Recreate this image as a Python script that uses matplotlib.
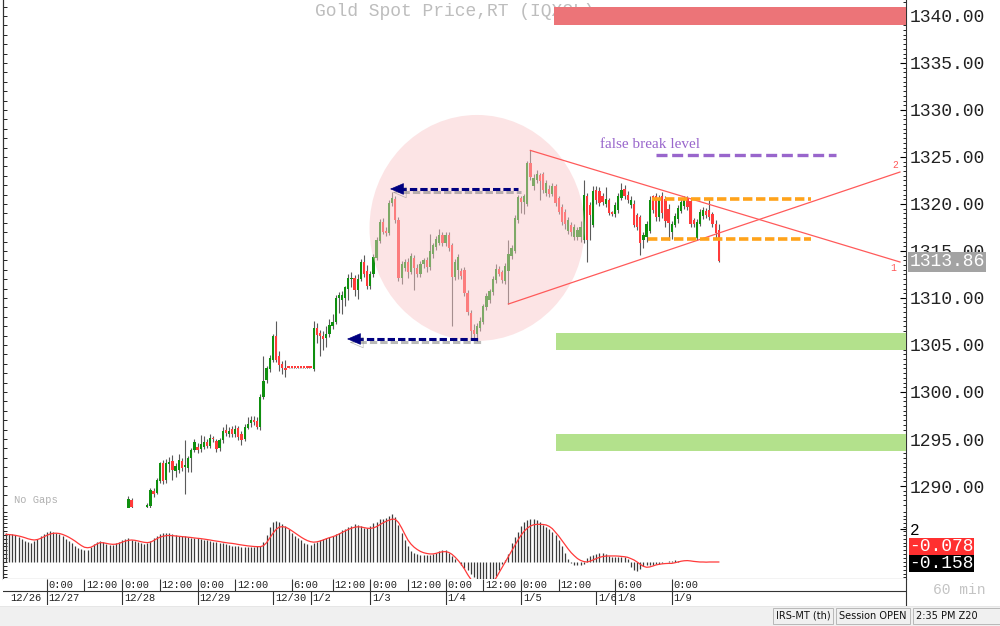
import numpy as np
import matplotlib
matplotlib.use("Agg")
import matplotlib.pyplot as plt
import matplotlib.patheffects as pe
from matplotlib.patches import Ellipse, Rectangle
from matplotlib.ticker import MultipleLocator, FixedLocator, FuncFormatter, NullFormatter
from matplotlib.transforms import blended_transform_factory

plt.rcParams['font.family'] = ['Liberation Mono', 'DejaVu Sans']
nan = np.nan

# ---- hourly candles (bar index 39 .. 227), bars before 39 are below the view
first_bar = 39
opens = [1287.6, 1288.5, nan, nan, nan, nan, 1287.8, 1287.9, 1289.5, 1289.3,
         1290.5, 1292.4, 1290.6, 1292.3, 1292.7, 1291.6, 1291.7, 1292.7, 1292.0, 1291.9,
         1293.0, 1293.8, 1294.2, 1293.9, 1294.1, 1294.7, 1294.3, 1295.0, 1294.8, 1294.0,
         1294.9, 1296.0, 1295.5, 1296.1, 1295.5, 1296.2, 1295.5, 1295.0, 1296.2, 1296.7,
         1297.0, 1296.9, 1296.3, 1299.5, 1301.3, 1302.4, 1303.4, 1306.0, 1303.8, 1303.0,
         1302.6, 1302.6, 1302.6, 1302.6, 1302.6, 1302.6, 1302.6, 1302.6, 1302.6, 1302.4,
         1306.8, 1306.3, 1306.0, 1305.7, 1306.2, 1307.0, 1307.4, 1310.0, 1309.8, 1310.0,
         1311.0, 1312.0, 1312.1, 1310.8, 1312.0, 1313.8, 1312.9, 1311.3, 1312.5, 1314.3,
         1316.1, 1318.1, 1317.1, 1316.9, 1320.1, 1320.5, 1318.3, 1312.1, 1313.2, 1313.8,
         1312.8, 1314.3, 1313.2, 1312.5, 1313.6, 1314.0, 1313.3, 1314.7, 1315.4, 1315.9,
         1316.7, 1315.8, 1316.7, 1315.6, 1312.2, 1313.0, 1312.9, 1313.0, 1310.5, 1308.4,
         1306.6, 1306.2, 1306.8, 1307.4, 1309.0, 1309.8, 1310.6, 1311.9, 1313.1, 1312.8,
         1311.8, 1312.9, 1314.5, 1315.0, 1318.3, 1320.6, 1320.2, 1320.0, 1324.4, 1321.9,
         1322.5, 1323.1, 1323.2, 1321.2, 1321.6, 1321.1, 1321.9, 1320.6, 1319.7, 1319.2,
         1317.1, 1317.8, 1316.5, 1316.5, 1316.5, 1316.2, 1320.9, 1319.9, 1317.8, 1321.5,
         1321.4, 1320.8, 1320.0, 1320.4, 1319.1, 1318.9, 1319.4, 1320.6, 1321.6, 1321.0,
         1319.9, 1320.0, 1318.8, 1318.6, 1316.2, 1316.5, 1317.1, 1320.8, 1320.9, 1318.6,
         1320.9, 1320.5, 1319.5, 1317.0, 1317.8, 1318.4, 1319.3, 1319.8, 1320.6, 1320.3,
         1318.3, 1316.4, 1317.9, 1318.7, 1319.3, 1319.4, 1318.9, 1317.9, 1317.2]
highs = [1288.9, 1288.7, nan, nan, nan, nan, 1288.2, 1289.8, 1289.8, 1290.9,
         1292.6, 1292.8, 1292.9, 1293.1, 1293.3, 1292.4, 1293.4, 1293.0, 1294.9, 1293.2,
         1294.0, 1295.0, 1294.6, 1295.4, 1295.3, 1295.0, 1295.5, 1295.3, 1295.0, 1295.1,
         1296.3, 1296.6, 1296.3, 1296.4, 1296.5, 1296.4, 1295.8, 1296.6, 1297.3, 1297.4,
         1297.4, 1297.3, 1299.8, 1303.8, 1302.8, 1303.9, 1306.2, 1307.5, 1304.4, 1303.3,
         1303.4, 1302.6, 1302.6, 1302.6, 1302.6, 1302.6, 1302.6, 1302.6, 1302.6, 1307.5,
         1307.3, 1306.6, 1306.5, 1307.0, 1307.8, 1308.3, 1310.3, 1310.6, 1310.7, 1311.3,
         1312.6, 1312.8, 1312.4, 1312.5, 1314.2, 1314.6, 1313.5, 1312.9, 1314.7, 1316.5,
         1318.4, 1318.5, 1317.5, 1320.4, 1321.3, 1320.9, 1318.6, 1313.9, 1314.2, 1314.3,
         1314.8, 1314.6, 1313.6, 1313.9, 1314.3, 1314.4, 1316.8, 1315.9, 1316.6, 1317.3,
         1317.0, 1317.0, 1317.0, 1315.9, 1314.1, 1314.7, 1313.2, 1313.3, 1310.9, 1308.7,
         1307.2, 1307.3, 1308.0, 1309.4, 1310.5, 1311.0, 1312.3, 1313.6, 1313.4, 1313.0,
         1313.7, 1316.2, 1315.6, 1318.8, 1321.0, 1320.9, 1321.1, 1324.6, 1325.7, 1323.2,
         1323.6, 1323.3, 1323.4, 1322.6, 1322.0, 1322.2, 1322.1, 1320.8, 1320.0, 1319.5,
         1318.6, 1318.1, 1317.9, 1317.6, 1318.2, 1322.5, 1321.2, 1320.2, 1321.9, 1321.9,
         1321.8, 1321.2, 1321.8, 1320.6, 1319.3, 1320.2, 1321.2, 1322.2, 1322.0, 1321.4,
         1320.8, 1320.4, 1319.0, 1318.8, 1317.0, 1318.2, 1320.9, 1321.0, 1321.2, 1321.0,
         1321.3, 1320.9, 1320.0, 1318.2, 1319.0, 1319.9, 1320.6, 1320.8, 1320.8, 1320.6,
         1318.5, 1318.4, 1319.5, 1319.7, 1319.6, 1320.4, 1319.2, 1318.3, 1317.9]
lows = [1287.5, 1287.5, nan, nan, nan, nan, 1287.5, 1287.6, 1288.8, 1289.2,
        1290.3, 1290.2, 1290.3, 1291.5, 1290.6, 1291.0, 1291.4, 1291.6, 1289.2, 1291.5,
        1291.5, 1293.6, 1293.5, 1293.6, 1293.9, 1294.0, 1294.0, 1294.7, 1293.6, 1293.7,
        1294.6, 1295.3, 1295.2, 1295.2, 1295.2, 1294.9, 1294.4, 1294.8, 1296.1, 1296.3,
        1296.5, 1296.1, 1296.0, 1299.3, 1301.0, 1302.1, 1303.2, 1303.2, 1302.2, 1301.9,
        1301.6, 1302.6, 1302.6, 1302.6, 1302.6, 1302.6, 1302.6, 1302.6, 1302.6, 1302.2,
        1305.2, 1303.8, 1304.5, 1304.8, 1305.9, 1306.7, 1307.2, 1308.4, 1308.3, 1309.1,
        1309.8, 1311.2, 1310.2, 1309.9, 1311.8, 1312.2, 1311.0, 1311.0, 1312.2, 1314.0,
        1315.9, 1316.8, 1316.6, 1316.7, 1319.8, 1318.0, 1311.8, 1311.5, 1312.9, 1312.1,
        1312.5, 1310.9, 1312.2, 1312.2, 1313.2, 1312.8, 1313.0, 1314.3, 1315.1, 1315.6,
        1315.5, 1315.5, 1315.0, 1307.0, 1311.9, 1312.0, 1312.0, 1310.2, 1308.2, 1305.6,
        1305.6, 1305.4, 1306.5, 1307.2, 1308.7, 1309.5, 1310.3, 1311.6, 1312.3, 1311.6,
        1311.5, 1309.4, 1314.2, 1314.8, 1318.0, 1319.0, 1318.9, 1319.8, 1322.6, 1321.5,
        1322.2, 1320.4, 1321.2, 1320.9, 1320.7, 1320.8, 1319.8, 1318.9, 1317.8, 1317.3,
        1316.8, 1316.6, 1316.2, 1316.2, 1316.0, 1315.8, 1313.8, 1316.2, 1317.5, 1320.0,
        1319.8, 1319.9, 1319.7, 1318.8, 1318.7, 1318.6, 1319.0, 1320.4, 1320.5, 1320.1,
        1319.6, 1317.5, 1317.2, 1314.6, 1315.3, 1316.0, 1316.9, 1319.0, 1318.2, 1318.2,
        1318.5, 1317.6, 1316.2, 1316.3, 1317.5, 1318.0, 1319.0, 1319.5, 1319.4, 1317.6,
        1317.5, 1316.2, 1317.7, 1318.4, 1318.5, 1318.3, 1317.5, 1316.4, 1313.8]
closes = [1288.6, 1287.8, nan, nan, nan, nan, 1288.0, 1289.6, 1289.1, 1290.6,
          1292.4, 1290.5, 1292.5, 1292.6, 1291.7, 1292.1, 1292.8, 1291.9, 1292.2, 1293.0,
          1293.8, 1294.7, 1293.8, 1294.5, 1294.7, 1294.3, 1295.1, 1295.0, 1293.9, 1294.9,
          1295.9, 1295.6, 1295.9, 1295.5, 1296.1, 1295.2, 1294.9, 1296.3, 1296.6, 1297.0,
          1296.8, 1296.3, 1299.5, 1301.2, 1302.5, 1303.6, 1306.0, 1303.4, 1302.9, 1302.5,
          1302.3, 1302.6, 1302.6, 1302.6, 1302.6, 1302.6, 1302.6, 1302.6, 1302.6, 1306.8,
          1306.1, 1306.0, 1305.6, 1306.2, 1307.1, 1307.4, 1310.0, 1310.3, 1310.3, 1311.2,
          1312.1, 1312.1, 1310.8, 1312.0, 1313.8, 1312.6, 1311.3, 1312.6, 1314.4, 1316.2,
          1318.1, 1317.0, 1316.9, 1320.1, 1320.6, 1318.3, 1312.1, 1313.6, 1313.8, 1312.8,
          1314.5, 1313.2, 1312.5, 1313.6, 1314.0, 1313.3, 1315.0, 1315.6, 1316.3, 1316.7,
          1315.8, 1316.7, 1315.3, 1312.2, 1313.8, 1314.4, 1312.3, 1310.5, 1308.5, 1306.5,
          1306.2, 1307.0, 1307.6, 1309.1, 1310.2, 1310.7, 1312.0, 1313.1, 1312.6, 1311.9,
          1313.4, 1314.7, 1315.3, 1318.5, 1320.7, 1320.2, 1320.8, 1324.4, 1322.9, 1322.8,
          1323.2, 1322.4, 1321.5, 1322.2, 1321.1, 1321.9, 1320.1, 1319.2, 1318.1, 1317.9,
          1318.3, 1317.0, 1317.6, 1317.2, 1317.6, 1321.0, 1316.2, 1318.8, 1321.4, 1320.4,
          1320.1, 1320.2, 1320.5, 1319.0, 1318.9, 1319.9, 1320.9, 1321.5, 1320.9, 1320.4,
          1320.4, 1317.8, 1317.5, 1315.8, 1316.7, 1317.9, 1320.4, 1319.4, 1318.6, 1320.6,
          1319.0, 1318.2, 1318.0, 1317.9, 1318.7, 1319.6, 1320.2, 1320.4, 1319.7, 1317.9,
          1317.9, 1318.1, 1319.2, 1319.4, 1318.8, 1318.6, 1317.9, 1316.9, 1313.9]
flat_bars = [90, 97]          # holiday bars with no range
last_price = 1313.86

# ---- lower study (bar index 0 .. 227)
hist = [1.85, 1.82, 1.80, 1.75, 1.62, 1.50, 1.38, 1.28, 1.25, 1.35,
        1.50, 1.65, 1.80, 1.92, 2.00, 1.95, 1.88, 1.78, 1.65, 1.50,
        1.35, 1.20, 1.05, 0.92, 0.82, 0.77, 0.75, 0.95, 1.15, 1.28,
        1.38, 1.30, 1.18, 1.10, 1.12, 1.20, 1.30, 1.40, 1.48, 1.53,
        1.45, 1.35, 1.28, 1.22, 1.18, 1.20, 1.35, 1.55, 1.70, 1.80,
        1.85, 1.88, 1.85, 1.80, 1.75, 1.70, 1.68, 1.65, 1.60, 1.58,
        1.55, 1.52, 1.50, 1.45, 1.40, 1.35, 1.31, 1.28, 1.25, 1.20,
        1.15, 1.10, 1.05, 1.02, 1.00, 0.99, 0.98, 0.98, 0.98, 0.99,
        1.00, 1.00, 1.30, 1.75, 2.25, 2.55, 2.62, 2.55, 2.45, 2.30,
        2.10, 1.90, 1.70, 1.55, 1.40, 1.25, 1.15, 1.10, 1.20, 1.30,
        1.40, 1.50, 1.58, 1.63, 1.70, 1.80, 1.90, 2.05, 2.15, 2.25,
        2.35, 2.45, 2.40, 2.30, 2.20, 2.17, 2.30, 2.50, 2.60, 2.75,
        2.80, 2.85, 3.00, 3.08, 2.90, 2.40, 1.90, 1.40, 1.00, 0.70,
        0.56, 0.50, 0.48, 0.46, 0.45, 0.45, 0.50, 0.60, 0.70, 0.78,
        0.77, 0.60, 0.40, 0.20, 0.00, -0.20, -0.38, -0.52, -0.75, -0.95,
        -1.10, -1.20, -1.25, -1.25, -1.20, -1.10, -0.90, -0.50, -0.10, 0.10,
        0.50, 1.20, 1.60, 1.96, 2.30, 2.60, 2.70, 2.75, 2.77, 2.70,
        2.55, 2.40, 2.25, 2.10, 1.96, 1.75, 1.42, 1.00, 0.56, 0.20,
        -0.05, -0.19, -0.20, -0.18, -0.10, 0.25, 0.40, 0.48, 0.52, 0.56,
        0.55, 0.50, 0.38, 0.34, 0.34, 0.35, 0.34, 0.32, 0.20, -0.30,
        -0.50, -0.55, -0.45, -0.25, -0.20, -0.20, -0.18, -0.15, -0.10, -0.05,
        0.00, 0.05, 0.08, 0.12, 0.05, 0.02, 0.02, 0.03, 0.02, 0.02,
        0.02, 0.03, 0.02, 0.02, 0.02, 0.03, 0.02, 0.02]
signal = [1.78, 1.77, 1.75, 1.72, 1.68, 1.63, 1.57, 1.50, 1.45, 1.42,
          1.45, 1.52, 1.62, 1.72, 1.80, 1.85, 1.86, 1.84, 1.78, 1.70,
          1.60, 1.48, 1.35, 1.20, 1.06, 0.95, 0.92, 0.95, 1.05, 1.17,
          1.25, 1.24, 1.20, 1.16, 1.14, 1.15, 1.20, 1.28, 1.35, 1.40,
          1.42, 1.40, 1.36, 1.31, 1.27, 1.25, 1.28, 1.38, 1.50, 1.60,
          1.66, 1.70, 1.71, 1.70, 1.68, 1.66, 1.64, 1.62, 1.60, 1.58,
          1.55, 1.53, 1.51, 1.48, 1.45, 1.42, 1.38, 1.35, 1.32, 1.28,
          1.25, 1.22, 1.20, 1.17, 1.13, 1.10, 1.07, 1.04, 1.02, 1.00,
          0.99, 0.99, 1.05, 1.25, 1.55, 1.85, 2.10, 2.25, 2.28, 2.25,
          2.15, 2.02, 1.88, 1.74, 1.60, 1.48, 1.38, 1.31, 1.28, 1.30,
          1.35, 1.42, 1.50, 1.57, 1.63, 1.70, 1.80, 1.90, 2.00, 2.10,
          2.18, 2.24, 2.27, 2.26, 2.22, 2.18, 2.17, 2.20, 2.28, 2.40,
          2.52, 2.62, 2.70, 2.77, 2.75, 2.55, 2.20, 1.80, 1.42, 1.15,
          0.95, 0.80, 0.68, 0.60, 0.55, 0.52, 0.52, 0.56, 0.62, 0.66,
          0.67, 0.62, 0.50, 0.32, 0.10, -0.15, -0.45, -0.80, -1.10, -1.30,
          -1.45, -1.55, -1.58, -1.55, -1.45, -1.30, -1.05, -0.70, -0.35, 0.00,
          0.35, 0.70, 1.05, 1.40, 1.72, 1.98, 2.18, 2.32, 2.40, 2.43,
          2.43, 2.42, 2.39, 2.30, 2.15, 1.92, 1.68, 1.40, 1.12, 0.85,
          0.60, 0.40, 0.22, 0.10, 0.03, 0.00, 0.05, 0.14, 0.22, 0.30,
          0.35, 0.38, 0.39, 0.39, 0.39, 0.38, 0.36, 0.34, 0.30, 0.22,
          0.13, 0.00, -0.15, -0.28, -0.34, -0.32, -0.26, -0.19, -0.15, -0.12,
          -0.10, -0.09, -0.09, -0.05, 0.00, 0.05, 0.08, 0.09, 0.07, 0.04,
          0.02, 0.00, 0.00, -0.01, 0.00, 0.00, 0.00, 0.00]
study_values = ['-0.078', '-0.158']

# ---- time scale
time_ticks = [13, 25, 37, 49, 61, 73, 91, 104, 116, 128, 140, 152, 164, 176, 194, 212]
time_labels = ['0:00', '12:00', '0:00', '12:00', '0:00', '12:00', '6:00', '12:00',
               '0:00', '12:00', '0:00', '12:00', '0:00', '12:00', '6:00', '0:00']
date_ticks = [13, 37, 61, 85, 97, 116, 140, 164, 188, 194, 212]
date_labels = ['12/27', '12/28', '12/29', '12/30', '1/2', '1/3', '1/4', '1/5', '1/6', '1/8', '1/9']

# ---- annotation levels
resist_zone = (1339.04, 1340.93)
support_zones = [(1304.47, 1306.28), (1293.72, 1295.53)]
false_break = 1325.2
range_top, range_bottom = 1320.53, 1316.24
swing_high, swing_low = 1321.6, 1305.64

W, H = 1000, 626
fig = plt.figure(figsize=(10, 6.26), dpi=100)


def fpos(x, y):
    return x / W, 1 - y / H


L_PX, R_PX = 3, 906
ax_l, ax_w = L_PX / W, (R_PX - L_PX) / W
xlim = ((L_PX - 6) / 3.14, (R_PX - 6) / 3.14)

ax = fig.add_axes([ax_l, 1 - 508 / H, ax_w, 508 / H])
ind = fig.add_axes([ax_l, 1 - 579 / H, ax_w, 71 / H])
tax = fig.add_axes([ax_l, 1 - 605 / H, ax_w, 26 / H])
for a in (ax, ind, tax):
    a.set_xlim(*xlim)
    a.tick_params(axis='x', bottom=False, labelbottom=False)

ax.set_ylim(1287.66, 1341.70)
ind.set_ylim(-1.097, 3.484)
tax.set_ylim(0, 1)

# ---- candles
idx = np.arange(first_bar, first_bar + len(closes))
o, h, l, c = (np.array(v, dtype=float) for v in (opens, highs, lows, closes))
up = c > o
body = np.where(np.abs(c - o) < 0.12, 0.12, np.abs(c - o))
bottom = np.minimum(o, c)
ax.vlines(idx, l, h, color='#5a5a5a', lw=0.8, zorder=2)
ax.bar(idx[up], body[up], bottom=bottom[up], width=0.72, color='#0f8f0f', zorder=2.5)
ax.bar(idx[~up], body[~up], bottom=bottom[~up], width=0.72, color='#ff3b3b', zorder=2.5)
fb = (idx >= flat_bars[0]) & (idx <= flat_bars[1])
ax.plot(idx[fb], c[fb], color='#777777', lw=0.6, ls=':', zorder=2.2)

# ---- highlight circle
ax.add_patch(Ellipse((150, 1317.45), width=215 / 3.14, height=226 / 9.4,
                     facecolor='#f9c7c9', alpha=0.48, edgecolor='none', zorder=3))

# ---- triangle
tri_red = '#ff5a5a'
ax.plot([167, 284.7], [1325.7, 1313.83], color=tri_red, lw=0.9, zorder=4)
ax.plot([160, 284.7], [1309.36, 1323.4], color=tri_red, lw=0.9, zorder=4)
ax.text(283.1, 1324.15, '2', color=tri_red, fontsize=7, ha='center', va='center', zorder=4)
ax.text(282.5, 1313.2, '1', color=tri_red, fontsize=7, ha='center', va='center', zorder=4)

# ---- zones
ax.add_patch(Rectangle((174.5, resist_zone[0]), xlim[1] - 174.5, resist_zone[1] - resist_zone[0],
                       facecolor='#ec7478', edgecolor='none', zorder=5))
for lo, hi in support_zones:
    ax.add_patch(Rectangle((175.2, lo), xlim[1] - 175.2, hi - lo,
                           facecolor='#b3e18c', edgecolor='none', zorder=5))

# ---- dashed levels
ax.plot([207, 264.3], [false_break, false_break], color='#9966cc', lw=2.4,
        ls=(0, (3.3, 1.4)), zorder=5)
ax.text(189.2, 1326.3, 'false break level', color='#9966cc', fontsize=11,
        family='Liberation Serif', va='center', ha='left', zorder=5)
ax.plot([205.6, 256.4], [range_top, range_top], color='#ffa31a', lw=2.6,
        ls=(0, (2.6, 1.0)), zorder=5)
ax.plot([204.5, 256.4], [range_bottom, range_bottom], color='#ffa31a', lw=2.6,
        ls=(0, (2.6, 1.0)), zorder=5)

# ---- arrows with shadow
NAVY = '#000080'
shadow = [pe.SimpleLineShadow(offset=(2, -2.5), shadow_color='#808080', alpha=0.55), pe.Normal()]
for tip, end, lvl in [(122.3, 163.1, swing_high), (108.6, 150.3, swing_low)]:
    ax.plot([tip + 3.0, end], [lvl, lvl], color=NAVY, lw=2.2, ls=(0, (2.4, 1.0)),
            zorder=6, path_effects=shadow, solid_capstyle='butt')
    an = ax.annotate('', xy=(tip, lvl), xytext=(tip + 3.5, lvl), zorder=6,
                     arrowprops=dict(arrowstyle='-|>,head_length=0.75,head_width=0.32',
                                     mutation_scale=12, color=NAVY, lw=0.5,
                                     shrinkA=0, shrinkB=0))
    an.arrow_patch.set_path_effects(shadow)

# ---- title and small captions
ax.text(*fpos(454.5, 12), 'Gold Spot Price,RT (IQXGL)', transform=fig.transFigure,
        color='#bdbdbd', fontsize=13, ha='center', va='center', zorder=1, clip_on=False)
ax.text(*fpos(14, 500), 'No Gaps', transform=fig.transFigure, color='#b0b0b0',
        fontsize=7.5, ha='left', va='center', zorder=1, clip_on=False)

# ---- price axis
for s in ('top', 'bottom'):
    ax.spines[s].set_visible(False)
for s in ('left', 'right'):
    ax.spines[s].set_color('#333333')
    ax.spines[s].set_linewidth(0.8)
ax.yaxis.tick_right()
ax.yaxis.set_major_locator(MultipleLocator(5))
ax.yaxis.set_minor_locator(MultipleLocator(0.5))
ax.yaxis.set_major_formatter(FuncFormatter(lambda v, p: f'{v:.2f}'))
ax.tick_params(axis='y', which='major', direction='in', length=4, width=0.8,
               labelsize=13, pad=3, labelcolor='#222222')
ax.tick_params(axis='y', which='minor', direction='in', length=2.5, width=0.6)
lsec = ax.secondary_yaxis('left')
lsec.yaxis.set_major_locator(MultipleLocator(1))
lsec.yaxis.set_major_formatter(NullFormatter())
lsec.tick_params(direction='in', length=3, width=0.6)
lsec.spines['left'].set_color('#333333')

btf = blended_transform_factory(ax.transAxes, ax.transData)
ax.text(1.004, last_price, f'{last_price:.2f}', transform=btf, color='white', fontsize=13,
        ha='left', va='center', zorder=10, clip_on=False,
        bbox=dict(boxstyle='square,pad=0.08', facecolor='#a3a3a3', edgecolor='none'))

# ---- study panel
bar_x = np.arange(len(hist))
ind.vlines(bar_x, 0, hist, color='#3c3c3c', lw=0.9, zorder=2)
ind.plot(np.arange(len(signal)), signal, color='#ff3a3a', lw=0.9, zorder=3)
ind.spines['top'].set_visible(False)
for s in ('left', 'right', 'bottom'):
    ind.spines[s].set_color('#333333')
    ind.spines[s].set_linewidth(0.8)
ind.yaxis.tick_right()
ind.yaxis.set_major_locator(FixedLocator([2.1]))
ind.yaxis.set_major_formatter(FuncFormatter(lambda v, p: '2'))
ind.yaxis.set_minor_locator(MultipleLocator(0.25))
ind.tick_params(axis='y', which='major', direction='in', length=4, labelsize=11.5, pad=3)
ind.tick_params(axis='y', which='minor', direction='in', length=2.5, width=0.6)
isec = ind.secondary_yaxis('left')
isec.yaxis.set_major_locator(MultipleLocator(0.25))
isec.yaxis.set_major_formatter(NullFormatter())
isec.tick_params(direction='in', length=3, width=0.6)
ibt = blended_transform_factory(ind.transAxes, ind.transData)
ind.text(1.004, 1.0, study_values[0], transform=ibt, color='white', fontsize=13,
         ha='left', va='center', clip_on=False, zorder=10,
         bbox=dict(boxstyle='square,pad=0.02', facecolor='#ff3030', edgecolor='none'))
ind.text(1.004, -0.1, study_values[1], transform=ibt, color='white', fontsize=13,
         ha='left', va='center', clip_on=False, zorder=10,
         bbox=dict(boxstyle='square,pad=0.02', facecolor='black', edgecolor='none'))

# ---- time scale rows
tax.set_yticks([])
for s in ('top', 'left', 'bottom'):
    tax.spines[s].set_visible(False)
tax.spines['right'].set_color('#333333')
tax.spines['right'].set_linewidth(0.8)
row = (605 - 591) / 26
tax.axhline(row, color='#333333', lw=0.8)
tax.vlines(time_ticks, row, 1, color='#333333', lw=0.8)
for t, lab in zip(time_ticks, time_labels):
    tax.text(t + 0.6, (row + 1) / 2, lab, fontsize=7.5, ha='left', va='center', color='#222222')
tax.vlines(date_ticks, 0, row, color='#333333', lw=0.8)
for t, lab in zip(date_ticks, date_labels):
    tax.text(t + 0.6, row / 2, lab, fontsize=7.5, ha='left', va='center', color='#222222')
tax.text(1.3, row / 2, '12/26', fontsize=7.5, ha='left', va='center', color='#222222')

fig.text(*fpos(933, 590), '60 min', color='#c4c4c4', fontsize=10.5, ha='left', va='center')

# ---- status bar
fig.add_artist(Rectangle((0, 0), 1, 19 / H, transform=fig.transFigure,
                         facecolor='#f0f0f0', edgecolor='none'))
fig.add_artist(Rectangle((0, 19 / H), 1, 1.5 / H, transform=fig.transFigure,
                         facecolor='#e6e6e6', edgecolor='none'))
for x0, x1, lab in [(773, 833, 'IRS-MT (th)'), (836, 910, 'Session OPEN'), (913, 1000, '2:35 PM Z20')]:
    fig.add_artist(Rectangle(fpos(x0, 624), (x1 - x0) / W, 16 / H, transform=fig.transFigure,
                             facecolor='none', edgecolor='#b8b8b8', lw=0.7))
    fig.text(*fpos(x0 + 3, 616), lab, family='DejaVu Sans', fontsize=7, ha='left',
             va='center', color='#111111')

fig.savefig('out.png', dpi=100)
